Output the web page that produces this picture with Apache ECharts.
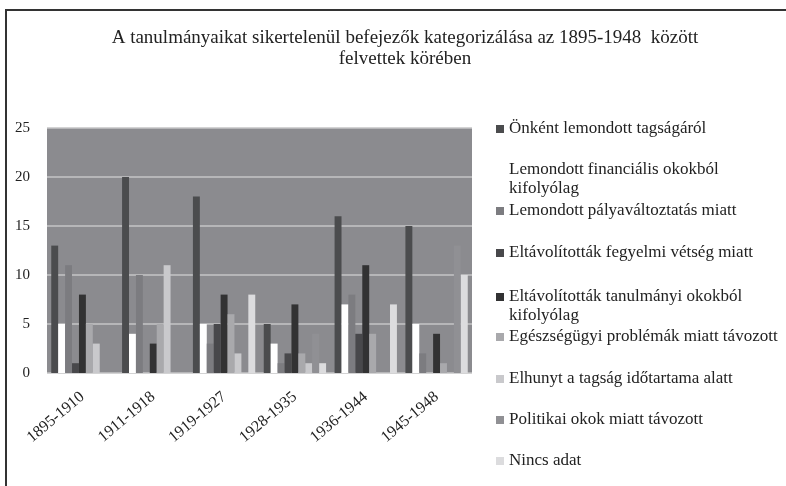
<!DOCTYPE html>
<html>
<head>
<meta charset="utf-8">
<script src="https://cdn.jsdelivr.net/npm/echarts@6/dist/echarts.min.js"></script>
<style>
html,body{margin:0;padding:0;background:#fff;}
#chart{width:786px;height:486px;}
</style>
</head>
<body>
<div id="chart"></div>
<script>
var categories = ['1895-1910','1911-1918','1919-1927','1928-1935','1936-1944','1945-1948'];
var seriesNames = [
  'Önként lemondott tagságáról',
  'Lemondott financiális okokból kifolyólag',
  'Lemondott pályaváltoztatás miatt',
  'Eltávolították fegyelmi vétség miatt',
  'Eltávolították tanulmányi okokból kifolyólag',
  'Egészségügyi problémák miatt távozott',
  'Elhunyt a tagság időtartama alatt',
  'Politikai okok miatt távozott',
  'Nincs adat'
];
var onkent      = [13, 20, 18, 5, 16, 15];
var financialis = [5, 4, 5, 3, 7, 5];
var palya       = [11, 10, 3, 1, 8, 2];
var fegyelmi    = [1, 0, 5, 2, 4, 0];
var tanulmanyi  = [8, 3, 8, 7, 11, 4];
var egeszseg    = [5, 5, 6, 2, 4, 1];
var elhunyt     = [3, 11, 2, 1, 0, 0];
var politikai   = [0, 0, 0, 4, 0, 13];
var nincsAdat   = [0, 0, 8, 1, 7, 10];
var yTicks = [0, 5, 10, 15, 20, 25];

var values = [onkent, financialis, palya, fegyelmi, tanulmanyi, egeszseg, elhunyt, politikai, nincsAdat];
var colors = ['#4b4c4e','#ffffff','#7c7c80','#48484b','#323233','#a9a9ac','#c9c9cc','#909094','#dcdcde'];
var legendCenters = [129, 170, 211, 253, 297, 337, 379, 420, 461];
var legendFirstLines = [
  'Önként lemondott tagságáról',
  'Lemondott financiális okokból',
  'Lemondott pályaváltoztatás miatt',
  'Eltávolították fegyelmi vétség miatt',
  'Eltávolították tanulmányi okokból',
  'Egészségügyi problémák miatt távozott',
  'Elhunyt a tagság időtartama alatt',
  'Politikai okok miatt távozott',
  'Nincs adat'
];
var legendSecondLines = ['', 'kifolyólag', '', '', 'kifolyólag', '', '', '', ''];

var serif = '"Liberation Serif", "DejaVu Serif", serif';
var LH = 19;

var series = seriesNames.map(function (n, i) {
  return {
    name: n,
    type: 'bar',
    data: values[i],
    itemStyle: { color: colors[i] },
    barGap: '0%',
    barCategoryGap: '12%',
    emphasis: { disabled: true }
  };
});

var legends = seriesNames.map(function (n, i) {
  return {
    data: [n],
    left: 496,
    top: legendCenters[i] - LH / 2,
    padding: 0,
    orient: 'vertical',
    itemWidth: 8,
    itemHeight: 8,
    icon: 'rect',
    selectedMode: false,
    formatter: function () { return legendFirstLines[i]; },
    textStyle: {
      fontFamily: serif,
      fontSize: 17,
      color: '#222',
      lineHeight: LH
    }
  };
});

var graphics = [
  { type: 'line', shape: { x1: 5, y1: 10, x2: 786, y2: 10 }, style: { stroke: '#333', lineWidth: 2 } },
  { type: 'line', shape: { x1: 6, y1: 9, x2: 6, y2: 486 }, style: { stroke: '#333', lineWidth: 2 } }
];
legendSecondLines.forEach(function (t, i) {
  if (t) {
    graphics.push({
      type: 'text',
      left: 509,
      top: legendCenters[i] + LH - LH / 2,
      style: { text: t, font: '17px ' + serif, fill: '#222', lineHeight: LH }
    });
  }
});

var chart = echarts.init(document.getElementById('chart'), null, { renderer: 'canvas' });
chart.setOption({
  animation: false,
  backgroundColor: '#ffffff',
  title: {
    text: 'A tanulmányaikat sikertelenül befejezők kategorizálása az 1895-1948  között\nfelvettek körében',
    left: 400,
    top: 23,
    textAlign: 'center',
    textStyle: {
      fontFamily: serif,
      fontSize: 19,
      fontWeight: 'normal',
      color: '#222',
      lineHeight: 21
    }
  },
  legend: legends,
  grid: {
    left: 47,
    top: 128,
    width: 425,
    height: 245,
    show: true,
    backgroundColor: '#8b8b8f',
    borderWidth: 0
  },
  xAxis: {
    type: 'category',
    data: categories,
    axisLine: { show: false },
    axisTick: { show: false },
    axisLabel: {
      rotate: 40,
      margin: 22,
      interval: 0,
      fontFamily: serif,
      fontSize: 16,
      color: '#222'
    }
  },
  yAxis: {
    type: 'value',
    min: yTicks[0],
    max: yTicks[yTicks.length - 1],
    interval: 5,
    axisLine: { show: false },
    axisTick: { show: false },
    axisLabel: {
      margin: 17,
      fontFamily: serif,
      fontSize: 15,
      color: '#222'
    },
    splitLine: { lineStyle: { color: '#c4c4c6', width: 1.5 } }
  },
  graphic: graphics,
  series: series
});
</script>
</body>
</html>
